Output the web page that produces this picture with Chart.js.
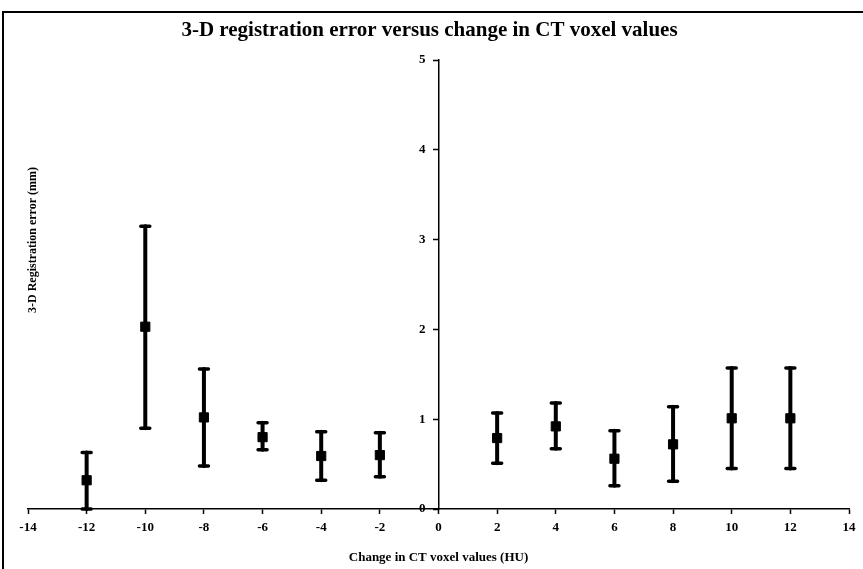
<!DOCTYPE html>
<html>
<head>
<meta charset="utf-8">
<script src="https://cdn.jsdelivr.net/npm/chart.js@4.4.1/dist/chart.umd.min.js"></script>
<style>
  html, body { margin: 0; padding: 0; background: #fff; }
  #wrap { width: 863px; height: 569px; position: relative; }
</style>
</head>
<body>
<div id="wrap"><canvas id="regErr" width="863" height="569"></canvas></div>
<script>
// change in CT voxel values (HU)
const huChange = [-12, -10, -8, -6, -4, -2, 2, 4, 6, 8, 10, 12];
// mean 3-D registration error (mm)
const meanErr = [0.32, 2.03, 1.02, 0.80, 0.59, 0.60, 0.79, 0.92, 0.56, 0.72, 1.01, 1.01];
// error bar ends
const errHigh = [0.63, 3.15, 1.56, 0.96, 0.86, 0.85, 1.07, 1.18, 0.87, 1.14, 1.57, 1.57];
const errLow  = [0.00, 0.90, 0.48, 0.66, 0.32, 0.36, 0.51, 0.67, 0.26, 0.31, 0.45, 0.45];

const xTicks = [-14, -12, -10, -8, -6, -4, -2, 0, 2, 4, 6, 8, 10, 12, 14];
const yTicks = [0, 1, 2, 3, 4, 5];

const serif = "'Liberation Serif', 'Times New Roman', serif";

const points = huChange.map((x, i) => ({ x: x, y: meanErr[i] }));

// vertical error bars with caps
const errorBars = {
    id: "errorBars",
    beforeDatasetsDraw(chart) {
        const ctx = chart.ctx;
        const xs = chart.scales.x, ys = chart.scales.y;
        ctx.save();
        ctx.strokeStyle = "#000";
        ctx.lineCap = "round";
        huChange.forEach((hu, i) => {
            const px = xs.getPixelForValue(hu);
            const top = ys.getPixelForValue(errHigh[i]);
            const bot = ys.getPixelForValue(errLow[i]);
            ctx.lineWidth = 4;
            ctx.beginPath();
            ctx.moveTo(px, top);
            ctx.lineTo(px, bot);
            ctx.stroke();
            ctx.lineWidth = 3.5;
            ctx.beginPath();
            ctx.moveTo(px - 4.5, top); ctx.lineTo(px + 4.5, top);
            ctx.moveTo(px - 4.5, bot); ctx.lineTo(px + 4.5, bot);
            ctx.stroke();
        });
        ctx.restore();
    }
};

// frame, title and rotated y label
const decorations = {
    id: "decorations",
    afterDraw(chart) {
        const ctx = chart.ctx;
        const area = chart.chartArea;
        ctx.save();
        ctx.strokeStyle = "#000";
        ctx.lineWidth = 2;
        ctx.beginPath();
        ctx.moveTo(3, chart.height);
        ctx.lineTo(3, 12);
        ctx.lineTo(chart.width, 12);
        ctx.stroke();

        ctx.fillStyle = "#000";
        ctx.font = "bold 21px " + serif;
        ctx.textAlign = "center";
        ctx.textBaseline = "middle";
        ctx.fillText("3-D registration error versus change in CT voxel values", chart.width / 2 - 2, 31);

        ctx.font = "bold 12px " + serif;
        ctx.translate(area.left + 5, 240);
        ctx.rotate(-Math.PI / 2);
        ctx.fillText("3-D Registration error (mm)", 0, 0);
        ctx.restore();
    }
};

new Chart(document.getElementById("regErr"), {
    type: "scatter",
    data: {
        datasets: [{
            label: "3-D registration error",
            data: points,
            pointStyle: "rect",
            pointRadius: 6.5,
            pointHoverRadius: 6.5,
            backgroundColor: "#000",
            borderColor: "#000",
            borderWidth: 1
        }]
    },
    options: {
        responsive: false,
        animation: false,
        layout: { padding: { left: 28, right: 14, top: 60, bottom: 0 } },
        plugins: {
            legend: { display: false },
            tooltip: { enabled: false },
            title: { display: false }
        },
        scales: {
            x: {
                type: "linear",
                position: "bottom",
                min: -14,
                max: 14,
                afterBuildTicks: (s) => { s.ticks = xTicks.map(v => ({ value: v })); },
                afterFit: (s) => { s.height = 60; },
                grid: { drawOnChartArea: false, drawTicks: true, tickLength: 5, tickColor: "#000", tickWidth: 1.5 },
                border: { display: true, color: "#000", width: 1.5 },
                ticks: {
                    color: "#000",
                    padding: 6,
                    maxRotation: 0,
                    autoSkip: false,
                    font: { family: serif, size: 13, weight: "bold" },
                    callback: (v) => String(v)
                },
                title: {
                    display: true,
                    text: "Change in CT voxel values (HU)",
                    color: "#000",
                    padding: { top: 0, bottom: 4 },
                    font: { family: serif, size: 13, weight: "bold" }
                }
            },
            y: {
                type: "linear",
                position: { x: 0 },
                min: 0,
                max: 5,
                afterBuildTicks: (s) => { s.ticks = yTicks.map(v => ({ value: v })); },
                grid: { drawOnChartArea: false, drawTicks: true, tickLength: 5, tickColor: "#000", tickWidth: 1.5 },
                border: { display: true, color: "#000", width: 1.5 },
                ticks: {
                    color: "#000",
                    autoSkip: false,
                    font: { family: serif, size: 13, weight: "bold" },
                    callback: (v) => v + "\u2002\u2002"
                }
            }
        }
    },
    plugins: [errorBars, decorations]
});
</script>
</body>
</html>
